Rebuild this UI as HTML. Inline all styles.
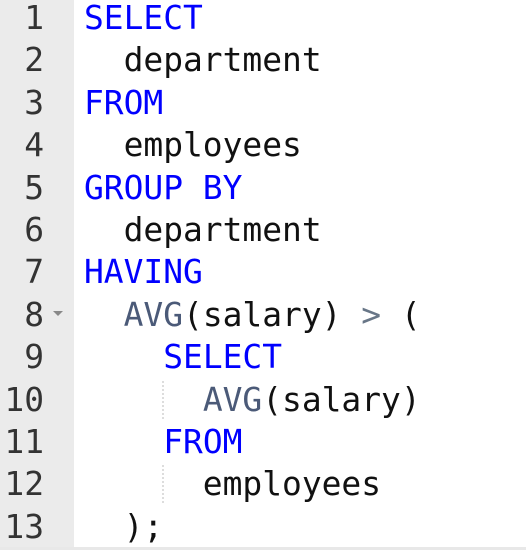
<!DOCTYPE html>
<html><head><style>
html,body{margin:0;padding:0;background:#fff;width:526px;height:550px;overflow:hidden;position:relative}
.g{position:absolute;left:0;top:0;width:74px;height:548px;background:#ebebeb}
.ln{position:absolute;font-family:"DejaVu Sans Mono","Liberation Mono",monospace;font-size:32.9px;line-height:42.4px;white-space:pre;color:#111}
.k{color:#0000ff}.f{color:#4b5a78}.o{color:#687687}
.num{color:#333;text-align:right;width:44px;left:0}
.guide{position:absolute;left:162px;width:0;border-left:2px dotted #ddd}
.bot{position:absolute;left:0;top:547px;width:526px;height:3px;background:#e8e8e8}
</style></head><body>
<div class="g"></div>
<div class="bot"></div>
<div class="ln num" style="top:-3px">1</div>
<div class="ln num" style="top:39.4px">2</div>
<div class="ln num" style="top:81.8px">3</div>
<div class="ln num" style="top:124.2px">4</div>
<div class="ln num" style="top:166.6px">5</div>
<div class="ln num" style="top:209px">6</div>
<div class="ln num" style="top:251.4px">7</div>
<div class="ln num" style="top:293.8px">8</div>
<div class="ln num" style="top:336.2px">9</div>
<div class="ln num" style="top:378.6px">10</div>
<div class="ln num" style="top:421px">11</div>
<div class="ln num" style="top:463.4px">12</div>
<div class="ln num" style="top:505.8px">13</div>
<svg style="position:absolute;left:52px;top:310px" width="12" height="8"><polygon points="1,1 11,1 6,6" fill="#888"/></svg>
<div class="guide" style="top:381px;height:38px"></div>
<div class="guide" style="top:465px;height:38px"></div>
<div class="ln" style="left:84px;top:-3px"><span class="k">SELECT</span></div>
<div class="ln" style="left:84px;top:39.4px">  department</div>
<div class="ln" style="left:84px;top:81.8px"><span class="k">FROM</span></div>
<div class="ln" style="left:84px;top:124.2px">  employees</div>
<div class="ln" style="left:84px;top:166.6px"><span class="k">GROUP BY</span></div>
<div class="ln" style="left:84px;top:209px">  department</div>
<div class="ln" style="left:84px;top:251.4px"><span class="k">HAVING</span></div>
<div class="ln" style="left:84px;top:293.8px">  <span class="f">AVG</span>(salary) <span class="o">&gt;</span> (</div>
<div class="ln" style="left:84px;top:336.2px">    <span class="k">SELECT</span></div>
<div class="ln" style="left:84px;top:378.6px">      <span class="f">AVG</span>(salary)</div>
<div class="ln" style="left:84px;top:421px">    <span class="k">FROM</span></div>
<div class="ln" style="left:84px;top:463.4px">      employees</div>
<div class="ln" style="left:84px;top:505.8px">  );</div>
</body></html>
